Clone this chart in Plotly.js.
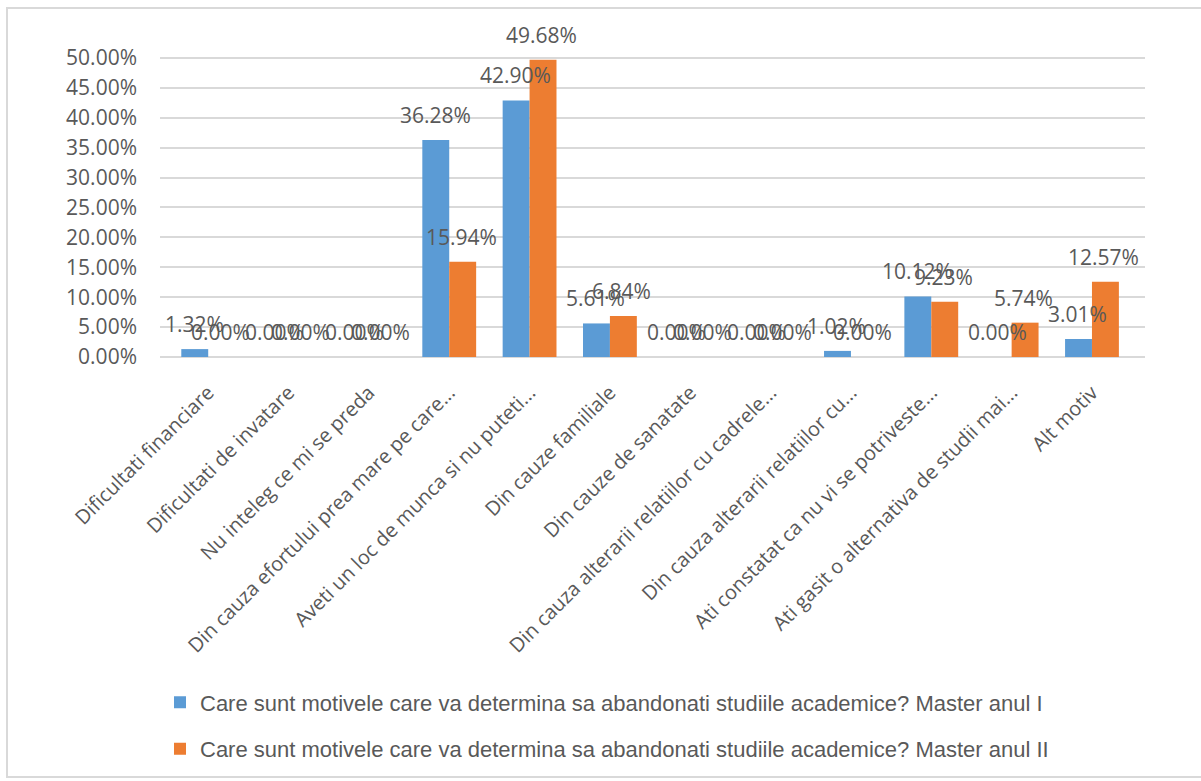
<!DOCTYPE html>
<html>
<head>
<meta charset="utf-8">
<script src="https://cdn.plot.ly/plotly-3.0.1.min.js"></script>
<style>
  html, body { margin: 0; padding: 0; background: #ffffff; }
  #wrap { position: relative; width: 1201px; height: 781px; overflow: hidden; }
  #chart { position: absolute; left: 0; top: 0; width: 1201px; height: 781px; }
  #frame { position: absolute; left: 6px; top: 7px; width: 1210px; height: 771px;
           border: 2px solid #d9d9d9; pointer-events: none; box-sizing: border-box; }
</style>
</head>
<body>
<div id="wrap">
  <div id="chart"></div>
  <div id="frame"></div>
</div>
<script>
const categories = [
  "Dificultati financiare",
  "Dificultati de invatare",
  "Nu inteleg ce mi se preda",
  "Din cauza efortului prea mare pe care...",
  "Aveti un loc de munca si nu puteti...",
  "Din cauze familiale",
  "Din cauze de sanatate",
  "Din cauza alterarii relatiilor cu cadrele...",
  "Din cauza alterarii relatiilor cu...",
  "Ati constatat ca nu vi se potriveste...",
  "Ati gasit o alternativa de studii mai...",
  "Alt motiv"
];
const masterAnulI  = [1.32, 0.00, 0.00, 36.28, 42.90, 5.61, 0.00, 0.00, 1.02, 10.12, 0.00, 3.01];
const masterAnulII = [0.00, 0.00, 0.00, 15.94, 49.68, 6.84, 0.00, 0.00, 0.00, 9.23, 5.74, 12.57];
const seriesNames = [
  "Care sunt motivele care va determina sa abandonati studiile academice? Master anul I",
  "Care sunt motivele care va determina sa abandonati studiile academice? Master anul II"
];
const yTickVals = [0, 5, 10, 15, 20, 25, 30, 35, 40, 45, 50, 55];
const yTickText = ["0.00%", "5.00%", "10.00%", "15.00%", "20.00%", "25.00%", "30.00%", "35.00%", "40.00%", "45.00%", "50.00%", ""];

const textFamily = "Open Sans, Segoe UI, sans-serif";
const labelFont = { family: textFamily, size: 21, color: "#595959" };

function mkTrace(vals, name, color, group) {
  return {
    type: "bar",
    x: categories,
    y: vals,
    name: name,
    legendgroup: group,
    marker: { color: color, line: { width: 0 } },
    hoverinfo: "x+y"
  };
}

const data = [
  mkTrace(masterAnulI, seriesNames[0], "#5b9bd5", "a"),
  mkTrace(masterAnulII, seriesNames[1], "#ed7d31", "b")
];

// value labels placed at each bar's own (category, value) point
const annotations = [];
[[masterAnulI, -14], [masterAnulII, 12]].forEach(([vals, dx]) => {
  vals.forEach((v, i) => {
    annotations.push({
      x: categories[i], y: v, xref: "x", yref: "y",
      text: v.toFixed(2) + "%",
      showarrow: false,
      xanchor: "center", yanchor: "bottom",
      xshift: dx, yshift: 9,
      font: labelFont
    });
  });
});

const layout = {
  width: 1201,
  height: 781,
  paper_bgcolor: "#ffffff",
  plot_bgcolor: "#ffffff",
  margin: { l: 160, r: 56, t: 28, b: 423, pad: 0 },
  barmode: "group",
  bargap: 0.33,
  bargroupgap: 0,
  showlegend: true,
  annotations: annotations,
  legend: {
    orientation: "v",
    x: 0.0,
    xanchor: "left",
    y: -0.98,
    yanchor: "top",
    font: { family: "Liberation Sans, sans-serif", size: 22, color: "#595959" },
    tracegroupgap: 15,
    itemwidth: 30,
    bgcolor: "rgba(0,0,0,0)"
  },
  xaxis: {
    type: "category",
    range: [-0.6, 11.66],
    tickangle: -45,
    tickfont: { family: textFamily, size: 20, color: "#595959" },
    showgrid: false,
    showline: false,
    zeroline: false,
    ticks: "",
    ticklabelstandoff: 19
  },
  yaxis: {
    range: [0, 55],
    tickvals: yTickVals,
    ticktext: yTickText,
    tickfont: { family: textFamily, size: 21, color: "#595959" },
    showgrid: true,
    gridcolor: "#d9d9d9",
    gridwidth: 2,
    zeroline: true,
    zerolinecolor: "#d9d9d9",
    zerolinewidth: 2,
    showline: false,
    ticks: "",
    ticklabelstandoff: 22
  }
};

Plotly.newPlot("chart", data, layout, { displayModeBar: false, staticPlot: true });
</script>
</body>
</html>
